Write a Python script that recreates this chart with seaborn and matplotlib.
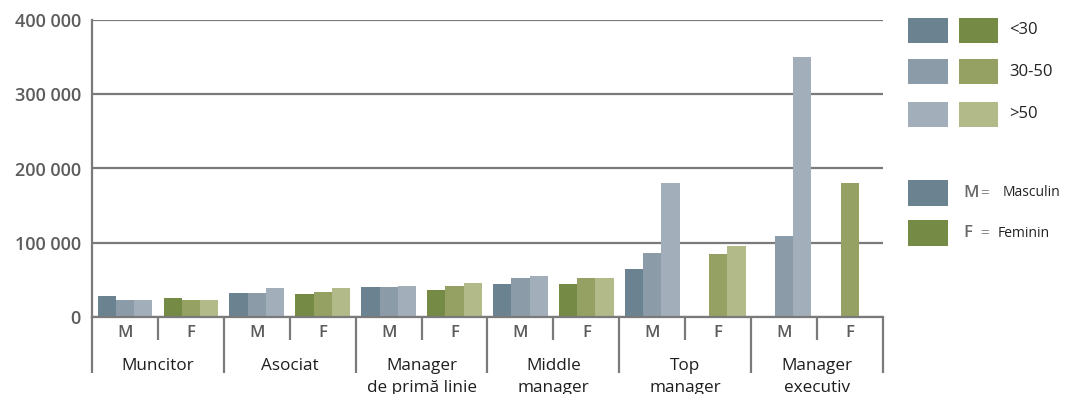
import numpy as np
import pandas as pd
import matplotlib
matplotlib.use("Agg")
import matplotlib.pyplot as plt
import matplotlib.transforms as mtransforms
from matplotlib.patches import Rectangle
import seaborn as sns

# ---------------- data ----------------
groups = ["Muncitor", "Asociat", "Manager\nde primă linie", "Middle\nmanager",
          "Top\nmanager", "Manager\nexecutiv"]
genders = ["M", "F"]
ages = ["<30", "30-50", ">50"]

m_lt30 = [27700, 32300, 40300, 44900, 64600, np.nan]
m_30_50 = [23300, 32300, 40300, 52000, 86100, 109400]
m_gt50 = [23300, 38500, 41700, 55600, 180300, 350800]

f_lt30 = [25600, 31000, 36700, 44900, np.nan, np.nan]
f_30_50 = [22400, 33200, 42100, 52000, 84300, 180300]
f_gt50 = [23300, 38500, 45300, 52000, 95100, np.nan]

y_ticks = [0, 100000, 200000, 300000, 400000]
y_tick_labels = ["0", "100 000", "200 000", "300 000", "400 000"]

m_colors = ["#6b8390", "#8b9ca8", "#a2aeba"]
f_colors = ["#758a45", "#95a163", "#b2ba8a"]

gender_names = ["Masculin", "Feminin"]

# ---------------- frames ----------------
order = [f"{g}|{s}" for g in groups for s in genders]


def make_frame(gender, series):
    rows = []
    for age, vals in zip(ages, series):
        for g, v in zip(groups, vals):
            if not np.isnan(v):
                rows.append({"slot": f"{g}|{gender}", "age": age, "value": v})
    return pd.DataFrame(rows)


df_m = make_frame("M", [m_lt30, m_30_50, m_gt50])
df_f = make_frame("F", [f_lt30, f_30_50, f_gt50])

# ---------------- figure ----------------
sns.set_style("white")
plt.rcParams["font.family"] = ["Open Sans", "DejaVu Sans"]

W, H = 1065, 394
fig = plt.figure(figsize=(W / 100, H / 100), dpi=100)
ax_left, ax_right, ax_top, ax_bot = 92, 883, 20, 317
ax = fig.add_axes([ax_left / W, 1 - ax_bot / H, (ax_right - ax_left) / W, (ax_bot - ax_top) / H])

common = dict(x="slot", y="value", hue="age", order=order, hue_order=ages,
              width=0.83, ax=ax, legend=False, linewidth=0, saturation=1,
              errorbar=None)
sns.barplot(data=df_m, palette=m_colors, **common)
sns.barplot(data=df_f, palette=f_colors, **common)

grid_c = "#7a7a7a"
ax.set_xlim(-0.5, len(order) - 0.5)
ax.set_ylim(0, 400000)
ax.set_yticks(y_ticks)
ax.set_yticklabels(y_tick_labels)
ax.set_xticks([])
ax.set_xlabel("")
ax.set_ylabel("")
ax.set_axisbelow(True)
ax.yaxis.grid(True, color=grid_c, linewidth=1.6)
ax.xaxis.grid(False)
for side in ["top", "right"]:
    ax.spines[side].set_visible(False)
for side in ["left", "bottom"]:
    ax.spines[side].set_color(grid_c)
    ax.spines[side].set_linewidth(1.6)
ax.tick_params(axis="y", length=0, pad=8, labelsize=13, labelcolor="#5c5c5c")
for t in ax.get_yticklabels():
    t.set_fontweight("semibold")

# separators and category labels below the axis
trans = mtransforms.blended_transform_factory(ax.transData, ax.transAxes)
axh = ax_bot - ax_top


def yfrac(px):
    return (ax_bot - px) / axh


for i in range(len(groups) + 1):
    xb = 2 * i - 0.5
    ax.plot([xb, xb], [0, yfrac(373)], color=grid_c, lw=1.6, transform=trans,
            clip_on=False, solid_capstyle="butt")
for i in range(len(groups)):
    xs = 2 * i + 0.5
    ax.plot([xs, xs], [0, yfrac(340)], color=grid_c, lw=1.6, transform=trans,
            clip_on=False, solid_capstyle="butt")

for k, slot in enumerate(order):
    ax.text(k, yfrac(333), slot.split("|")[1], transform=trans, ha="center",
            va="center", fontsize=12, fontweight="semibold", color="#5c5c5c")
for i, g in enumerate(groups):
    ax.text(2 * i + 0.5, yfrac(358), g, transform=trans, ha="center", va="top",
            fontsize=12.3, color="#1e1e1e", linespacing=1.5)

# ---------------- legend ----------------
def add_box(x0, y0, x1, y1, color):
    fig.add_artist(Rectangle((x0 / W, 1 - y1 / H), (x1 - x0) / W, (y1 - y0) / H,
                             transform=fig.transFigure, facecolor=color,
                             edgecolor="none"))


rows_y = [(18, 43), (59, 84), (102, 127)]
for (y0, y1), mc, fc, lab in zip(rows_y, m_colors, f_colors, ages):
    add_box(908, y0, 948, y1, mc)
    add_box(959, y0, 998, y1, fc)
    fig.text(1009 / W, 1 - (y0 + y1) / 2 / H, lab, ha="left", va="center",
             fontsize=12, color="#222222")

g_rows = [(180, 206), (220, 246)]
g_name_x = [1003, 998]
for (y0, y1), gcode, gname, col, nx in zip(g_rows, genders, gender_names,
                                           [m_colors[0], f_colors[0]], g_name_x):
    add_box(908, y0, 948, y1, col)
    yc = 1 - (y0 + y1) / 2 / H
    fig.text(963 / W, yc, gcode, ha="left", va="center", fontsize=12,
             color="#6a6a6a", fontweight="semibold")
    fig.text(980 / W, yc, "=", ha="left", va="center", fontsize=11,
             color="#8a8a8a")
    fig.text(nx / W, yc, gname, ha="left", va="center", fontsize=10,
             color="#222222")

fig.savefig("out.png", dpi=100, facecolor="white")
